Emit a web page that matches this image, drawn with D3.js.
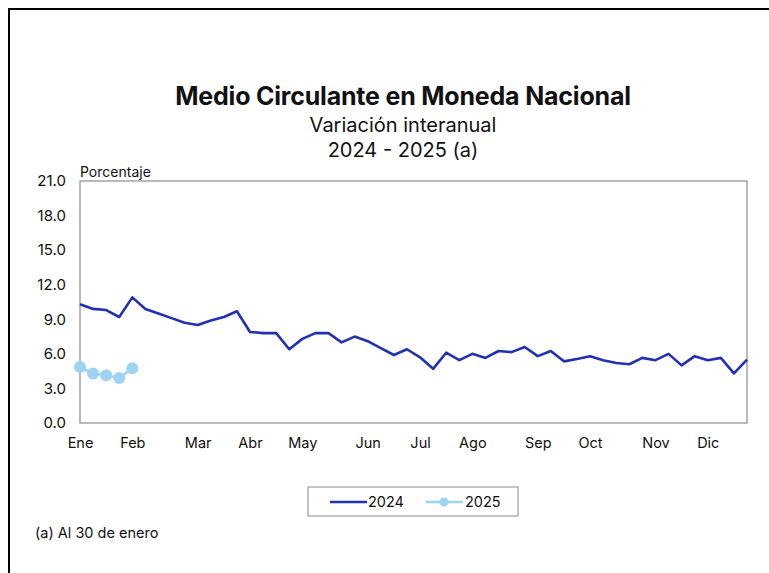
<!DOCTYPE html>
<html>
<head>
<meta charset="utf-8">
<script src="https://cdn.jsdelivr.net/npm/d3@7"></script>
<style>
  body { margin: 0; background: #fff; }
  svg { display: block; font-family: "Inter", "Noto Sans", sans-serif; }
</style>
</head>
<body>
<div id="chart"></div>
<script>
// weekly observations, year-on-year % change
const values2024 = [
  10.3, 9.9, 9.8, 9.2, 10.9, 9.9, 9.5, 9.1, 8.7, 8.5,
  8.9, 9.2, 9.7, 7.9, 7.8, 7.8, 6.4, 7.3, 7.8, 7.8,
  7.0, 7.5, 7.1, 6.5, 5.9, 6.4, 5.7, 4.7, 6.1, 5.45,
  6.0, 5.65, 6.25, 6.15, 6.6, 5.8, 6.25, 5.35, 5.55, 5.8,
  5.45, 5.2, 5.1, 5.65, 5.45, 6.0, 5.0, 5.8, 5.45, 5.65,
  4.3, 5.5
];
const values2025 = [4.85, 4.3, 4.15, 3.9, 4.75];
const monthLabels = ["Ene", "Feb", "Mar", "Abr", "May", "Jun", "Jul", "Ago", "Sep", "Oct", "Nov", "Dic"];
const monthWeek = [0, 4, 9, 13, 17, 22, 26, 30, 35, 39, 44, 48];
const yTicks = [0, 3, 6, 9, 12, 15, 18, 21];

const W = 769, H = 573;
const margin = { top: 181, right: 22, bottom: 150, left: 80 };
const w = W - margin.left - margin.right;
const h = H - margin.top - margin.bottom;

const c2024 = "#2231b4";
const c2025 = "#9fd3f4";

const svg = d3.select("#chart").append("svg").attr("width", W).attr("height", H);

// outer frame
svg.append("rect").attr("x", 9).attr("y", 9).attr("width", 800).attr("height", 700)
  .attr("fill", "none").attr("stroke", "#000").attr("stroke-width", 2);

// titles
svg.append("text").attr("x", 403).attr("y", 105).attr("text-anchor", "middle")
  .attr("font-size", 25).attr("font-weight", 700).attr("letter-spacing", -0.2)
  .attr("fill", "#111").text("Medio Circulante en Moneda Nacional");
svg.append("text").attr("x", 403).attr("y", 132).attr("text-anchor", "middle")
  .attr("font-size", 20).attr("fill", "#111").text("Variación interanual");
svg.append("text").attr("x", 403).attr("y", 157).attr("text-anchor", "middle")
  .attr("font-size", 20).attr("fill", "#111").text("2024 - 2025 (a)");

const g = svg.append("g").attr("transform", `translate(${margin.left},${margin.top})`);

const x = d3.scaleLinear().domain([0, values2024.length - 1]).range([0, w]);
const y = d3.scaleLinear().domain([0, 21]).range([h, 0]);

g.append("rect").attr("width", w).attr("height", h)
  .attr("fill", "none").attr("stroke", "#8c8c8c").attr("stroke-width", 1.2);

g.append("g")
  .call(d3.axisLeft(y).tickValues(yTicks).tickFormat(d3.format(".1f")).tickSize(0).tickPadding(14))
  .call(a => a.select(".domain").remove())
  .call(a => a.selectAll("text").attr("font-size", 15).attr("fill", "#111")
    .attr("font-family", "Inter, 'Noto Sans', sans-serif"));

g.append("g").attr("transform", `translate(0,${h})`)
  .call(d3.axisBottom(x).tickValues(monthWeek).tickFormat((d, i) => monthLabels[i]).tickSize(0).tickPadding(15))
  .call(a => a.select(".domain").remove())
  .call(a => a.selectAll("text").attr("font-size", 14.5).attr("fill", "#111")
    .attr("font-family", "Inter, 'Noto Sans', sans-serif"));

svg.append("text").attr("x", 80).attr("y", 177).attr("font-size", 14).attr("fill", "#111").text("Porcentaje");

const line = d3.line().x((d, i) => x(i)).y(d => y(d));

g.append("path").datum(values2024).attr("d", line)
  .attr("fill", "none").attr("stroke", c2024).attr("stroke-width", 2.6).attr("stroke-linejoin", "round");

g.append("path").datum(values2025).attr("d", line)
  .attr("fill", "none").attr("stroke", c2025).attr("stroke-width", 2.6);
g.selectAll(".dot25").data(values2025).enter().append("circle")
  .attr("class", "dot25").attr("cx", (d, i) => x(i)).attr("cy", d => y(d)).attr("r", 6)
  .attr("fill", c2025);

// legend
const lg = svg.append("g").attr("transform", "translate(308,487)");
lg.append("rect").attr("width", 210).attr("height", 29).attr("fill", "#fff")
  .attr("stroke", "#8c8c8c").attr("stroke-width", 1);
lg.append("line").attr("x1", 22).attr("x2", 59).attr("y1", 15).attr("y2", 15)
  .attr("stroke", c2024).attr("stroke-width", 2.6);
lg.append("text").attr("x", 60).attr("y", 20).attr("font-size", 14.5).attr("fill", "#111").text("2024");
lg.append("line").attr("x1", 118).attr("x2", 155).attr("y1", 15).attr("y2", 15)
  .attr("stroke", c2025).attr("stroke-width", 2.6);
lg.append("circle").attr("cx", 136).attr("cy", 15).attr("r", 4.5).attr("fill", c2025);
lg.append("text").attr("x", 157).attr("y", 20).attr("font-size", 14.5).attr("fill", "#111").text("2025");

svg.append("text").attr("x", 35).attr("y", 538).attr("font-size", 14.5).attr("fill", "#111").text("(a) Al 30 de enero");
</script>
</body>
</html>
